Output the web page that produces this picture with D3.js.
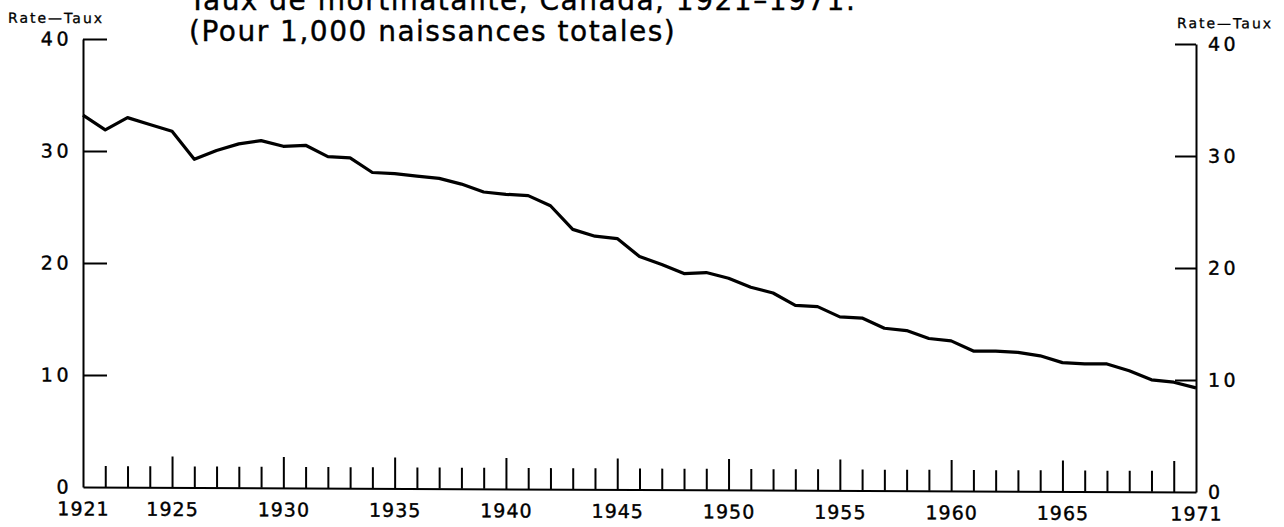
<!DOCTYPE html>
<html><head><meta charset="utf-8">
<script src="https://cdn.jsdelivr.net/npm/d3@7"></script>
<style>body{margin:0;background:#fff}svg{display:block}text{font-family:"DejaVu Sans",sans-serif;fill:#000}</style>
</head><body><svg id="c" width="1284" height="527"></svg>
<script>
const years=[1921,1922,1923,1924,1925,1926,1927,1928,1929,1930,1931,1932,1933,1934,1935,1936,1937,1938,1939,1940,1941,1942,1943,1944,1945,1946,1947,1948,1949,1950,1951,1952,1953,1954,1955,1956,1957,1958,1959,1960,1961,1962,1963,1964,1965,1966,1967,1968,1969,1970,1971];
const rates=[33.2,31.9,33.0,32.4,31.8,29.3,30.1,30.7,31.0,30.5,30.6,29.6,29.5,28.2,28.1,27.9,27.7,27.2,26.5,26.3,26.2,25.3,23.2,22.6,22.4,20.8,20.1,19.3,19.4,18.9,18.1,17.6,16.5,16.4,15.5,15.4,14.5,14.3,13.6,13.4,12.5,12.5,12.4,12.1,11.5,11.4,11.4,10.8,10.0,9.8,9.3];
const yTicks=[0,10,20,30,40];
const xLabelYears=[1921,1925,1930,1935,1940,1945,1950,1955,1960,1965,1971];
const titleLines=["Taux de mortinatalité, Canada, 1921–1971.","(Pour 1,000 naissances totales)"];
const axisTitle="Rate—Taux";

const svg=d3.select('#c');
const x=d3.scaleLinear().domain([1921,1971]).range([83,1196]);
const y=d3.scaleLinear().domain([0,40]).range([487,39]);

// title (top line is clipped by the page edge, as in the scanned original)
svg.selectAll('text.title').data(titleLines).join('text').attr('class','title')
  .attr('x',189).attr('y',(d,i)=>10+i*31).attr('font-size',28).attr('letter-spacing',1.5)
  .attr('stroke','#000').attr('stroke-width',0.4).text(d=>d);

// plot group, slight scan skew
const g=svg.append('g').attr('transform','translate(83,0) skewY(0.26) translate(-83,0)');

const minorYears=years.filter(d=>d>1921&&d<1971&&d%5!==0);
const majorYears=years.filter(d=>d>1921&&d<1971&&d%5===0);

function style(sel){
  sel.select('.domain').attr('stroke','#000').attr('stroke-width',2);
  sel.selectAll('.tick line').attr('stroke','#000').attr('stroke-width',2);
  sel.selectAll('text').attr('font-family','"DejaVu Sans",sans-serif').attr('fill','#000')
     .attr('stroke','#000').attr('stroke-width',0.4);
}

g.append('g').attr('transform',`translate(0,${y(0)})`)
  .call(d3.axisBottom(x).tickValues(minorYears).tickSizeInner(-21).tickSizeOuter(0).tickFormat(''))
  .call(style);
g.append('g').attr('transform',`translate(0,${y(0)})`)
  .call(d3.axisBottom(x).tickValues(majorYears).tickSizeInner(-31).tickSizeOuter(0).tickFormat(''))
  .call(style).call(s=>s.select('.domain').remove());
g.append('g').attr('transform',`translate(0,${y(0)})`)
  .call(d3.axisBottom(x).tickValues(xLabelYears).tickSize(0).tickPadding(15).tickFormat(d3.format('d')))
  .call(style).call(s=>{s.select('.domain').remove();s.selectAll('text').attr('font-size',19).attr('letter-spacing',1);});

g.append('g').attr('transform',`translate(${x(1921)},0)`)
  .call(d3.axisLeft(y).tickValues(yTicks).tickSizeInner(-24).tickSizeOuter(0).tickPadding(11).tickFormat(d3.format('d')))
  .call(style).call(s=>{s.selectAll('text').attr('font-size',19).attr('letter-spacing',3.5);
     s.selectAll('.tick').filter(d=>d===0).select('line').remove();});
g.append('g').attr('transform',`translate(${x(1971)},0)`)
  .call(d3.axisRight(y).tickValues(yTicks).tickSizeInner(-21).tickSizeOuter(0).tickPadding(12).tickFormat(d3.format('d')))
  .call(style).call(s=>{s.selectAll('text').attr('font-size',19).attr('letter-spacing',3.5);
     s.selectAll('.tick').filter(d=>d===0).select('line').remove();});

g.append('text').attr('x',8).attr('y',23).attr('font-size',14).attr('letter-spacing',2)
  .attr('stroke','#000').attr('stroke-width',0.3).text(axisTitle);
g.append('text').attr('x',1177).attr('y',23).attr('font-size',14).attr('letter-spacing',2)
  .attr('stroke','#000').attr('stroke-width',0.3).text(axisTitle);

const line=d3.line().x((d,i)=>x(years[i])).y(d=>y(d));
g.append('path').datum(rates).attr('d',line).attr('fill','none').attr('stroke','#000')
  .attr('stroke-width',3.2).attr('stroke-linejoin','round');
</script></body></html>
